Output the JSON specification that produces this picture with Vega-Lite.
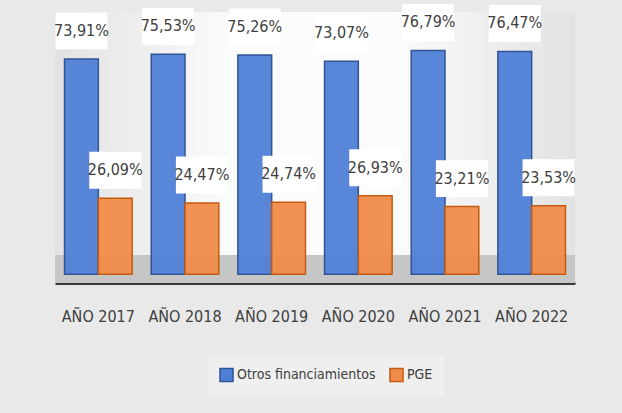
{
  "$schema": "https://vega.github.io/schema/vega-lite/v6.json",
  "width": 520,
  "height": 271,
  "autosize": {"type": "none"},
  "padding": {"left": 55, "top": 12, "right": 47, "bottom": 130},
  "background": "#e9e9e9",
  "config": {
    "view": {"stroke": null},
    "font": "Liberation Sans Narrow, DejaVu Sans Condensed, sans-serif"
  },
  "data": {
    "values": [
      {"year": "AÑO 2017", "series": "Otros financiamientos", "value": 73.91, "label": "73,91%"},
      {"year": "AÑO 2017", "series": "PGE", "value": 26.09, "label": "26,09%"},
      {"year": "AÑO 2018", "series": "Otros financiamientos", "value": 75.53, "label": "75,53%"},
      {"year": "AÑO 2018", "series": "PGE", "value": 24.47, "label": "24,47%"},
      {"year": "AÑO 2019", "series": "Otros financiamientos", "value": 75.26, "label": "75,26%"},
      {"year": "AÑO 2019", "series": "PGE", "value": 24.74, "label": "24,74%"},
      {"year": "AÑO 2020", "series": "Otros financiamientos", "value": 73.07, "label": "73,07%"},
      {"year": "AÑO 2020", "series": "PGE", "value": 26.93, "label": "26,93%"},
      {"year": "AÑO 2021", "series": "Otros financiamientos", "value": 76.79, "label": "76,79%"},
      {"year": "AÑO 2021", "series": "PGE", "value": 23.21, "label": "23,21%"},
      {"year": "AÑO 2022", "series": "Otros financiamientos", "value": 76.47, "label": "76,47%"},
      {"year": "AÑO 2022", "series": "PGE", "value": 23.53, "label": "23,53%"}
    ]
  },
  "layer": [
    {
      "data": {"values": [{}]},
      "mark": {
        "type": "rect",
        "color": {
          "gradient": "linear",
          "x1": 0, "x2": 1, "y1": 0, "y2": 0,
          "stops": [
            {"offset": 0, "color": "#e2e2e2"},
            {"offset": 0.35, "color": "#fcfcfc"},
            {"offset": 0.65, "color": "#fcfcfc"},
            {"offset": 1, "color": "#e2e2e2"}
          ]
        }
      },
      "encoding": {}
    },
    {
      "data": {"values": [{}]},
      "mark": {"type": "rect", "color": "#c6c6c6"},
      "encoding": {
        "y": {"datum": -3, "type": "quantitative", "scale": {"domain": [-3, 90], "nice": false}},
        "y2": {"datum": 6.6}
      }
    },
    {
      "mark": {"type": "bar", "strokeWidth": 1.5, "fillOpacity": 0.95},
      "encoding": {
        "x": {
          "field": "year", "type": "nominal", "sort": null,
          "scale": {"paddingInner": 0.22, "paddingOuter": 0.11},
          "axis": {
            "title": null, "labelAngle": 0, "ticks": false,
            "domainColor": "#3a3a3a", "domainWidth": 3,
            "labelPadding": 25, "labelFontSize": 16, "labelColor": "#404040"
          }
        },
        "xOffset": {"field": "series", "type": "nominal", "sort": null},
        "y": {
          "field": "value", "type": "quantitative",
          "scale": {"domain": [-3, 90], "nice": false},
          "axis": {"title": null, "labels": false, "ticks": false, "domain": false, "grid": false}
        },
        "fill": {
          "field": "series", "type": "nominal", "sort": null,
          "scale": {"range": ["#4F7FD6", "#F08C4A"]},
          "legend": {
            "title": null, "orient": "none", "legendX": 153, "legendY": 344,
            "direction": "horizontal", "fillColor": "#efefef", "padding": 11,
            "labelFontSize": 14, "labelColor": "#404040", "symbolType": "square",
            "symbolSize": 170, "symbolStrokeWidth": 1.5, "columnPadding": 10, "labelOffset": 3
          }
        },
        "stroke": {
          "field": "series", "type": "nominal", "sort": null,
          "scale": {"range": ["#2F5597", "#C55A11"]}
        }
      }
    },
    {
      "mark": {
        "type": "point", "filled": true, "color": "white", "opacity": 1,
        "shape": "M-1,-0.71H1V0.71H-1Z", "size": 2704, "yOffset": -28
      },
      "encoding": {
        "x": {"field": "year", "type": "nominal", "sort": null},
        "xOffset": {"field": "series", "type": "nominal", "sort": null},
        "y": {"field": "value", "type": "quantitative"}
      }
    },
    {
      "mark": {
        "type": "text", "fontSize": 16, "color": "#404040",
        "baseline": "middle", "align": "center", "yOffset": -28
      },
      "encoding": {
        "x": {"field": "year", "type": "nominal", "sort": null},
        "xOffset": {"field": "series", "type": "nominal", "sort": null},
        "y": {"field": "value", "type": "quantitative"},
        "text": {"field": "label"}
      }
    }
  ]
}
